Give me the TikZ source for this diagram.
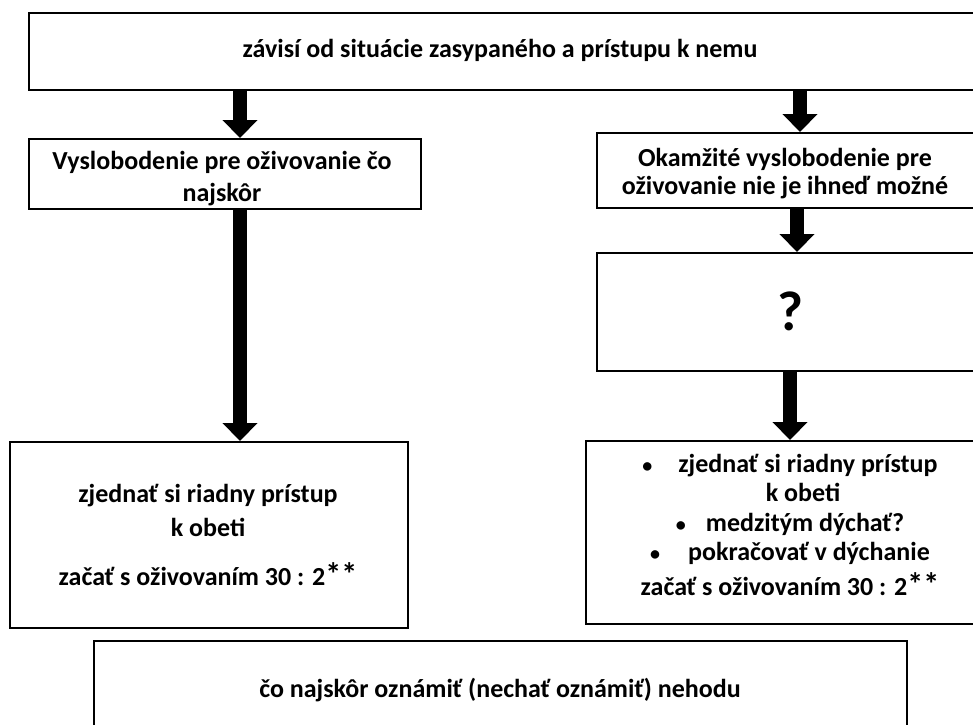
\documentclass[tikz,border=0pt]{standalone}
\usepackage{fontspec}
\setmainfont{Carlito}
\usetikzlibrary{arrows.meta}
\newcommand{\stars}{{\fontsize{32}{32}\selectfont **}}
\newcommand{\bul}{{\fontsize{20}{20}\selectfont •}}
\begin{document}
\begin{tikzpicture}[x=1pt,y=-1pt,
  box/.style={draw, line width=2pt, rectangle, inner sep=0pt, anchor=north west},
  txt/.style={inner sep=0pt, align=center, font=\fontsize{26}{32}\selectfont\bfseries},
  fat/.style={line width=14pt, -{Triangle[width=34pt,length=18pt]}}]
\useasboundingbox (0,0) rectangle (973,724);
\clip (0,0) rectangle (973,724);
\fill[white] (0,0) rectangle (973,724);
% boxes
\node[box, minimum width=960pt, minimum height=77pt] (top) at (28,12) {};
\node[box, minimum width=392pt, minimum height=70pt] (A) at (28,138) {};
\node[box, minimum width=398pt, minimum height=186pt] (C) at (9,441) {};
\node[box, minimum width=392pt, minimum height=75pt] (B) at (596,132) {};
\node[box, minimum width=392pt, minimum height=118pt] (Q) at (596,252) {};
\node[box, minimum width=405pt, minimum height=183pt] (D) at (585,440) {};
\node[box, minimum width=813pt, minimum height=100pt] (E) at (93,640) {};
% texts
\node[txt] (toptext) at (500,50) {závisí od situácie zasypaného a prístupu k nemu};
\node[txt, font=\fontsize{26}{32}\selectfont\bfseries] (Atext) at (222,179)
  {Vyslobodenie pre oživovanie čo\\najskôr};
\node[txt, font=\fontsize{26}{34}\selectfont\bfseries] (Ctext) at (208,535)
  {zjednať si riadny prístup\\k obeti\\[15pt]začať s oživovaním 30 : 2\stars};
\node[txt, font=\fontsize{26}{28}\selectfont\bfseries] (Btext) at (785,174)
  {Okamžité vyslobodenie pre\\oživovanie nie je ihneď možné};
\node[txt, font=\fontsize{56}{56}\selectfont\bfseries] (Qtext) at (790,311) {?};
\node[txt, font=\fontsize{26}{29.5}\selectfont\bfseries] (Dtext) at (790,525)
  {\bul\hspace{26pt}zjednať si riadny prístup\\
   \hspace*{26pt}k obeti\\
   \bul\hspace{20pt}medzitým dýchať?\\
   \bul\hspace{28pt}pokračovať v dýchanie\\[5.5pt]
   začať s oživovaním 30 : 2\stars};
\node[txt] (Etext) at (500,690) {čo najskôr oznámiť (nechať oznámiť) nehodu};
% arrow columns
\coordinate (xl) at (240,0);
\coordinate (xr1) at (800,0);
\coordinate (xr2) at (797,0);
\coordinate (xr3) at (790,0);
\draw[fat] (top.south -| xl) -- (A.north -| xl);
\draw[fat] (A.south -| xl) -- (C.north -| xl);
\draw[fat] (top.south -| xr1) -- (B.north -| xr1);
\draw[fat] (B.south -| xr2) -- (Q.north -| xr2);
\draw[fat] (Q.south -| xr3) -- (D.north -| xr3);
\end{tikzpicture}
\end{document}
